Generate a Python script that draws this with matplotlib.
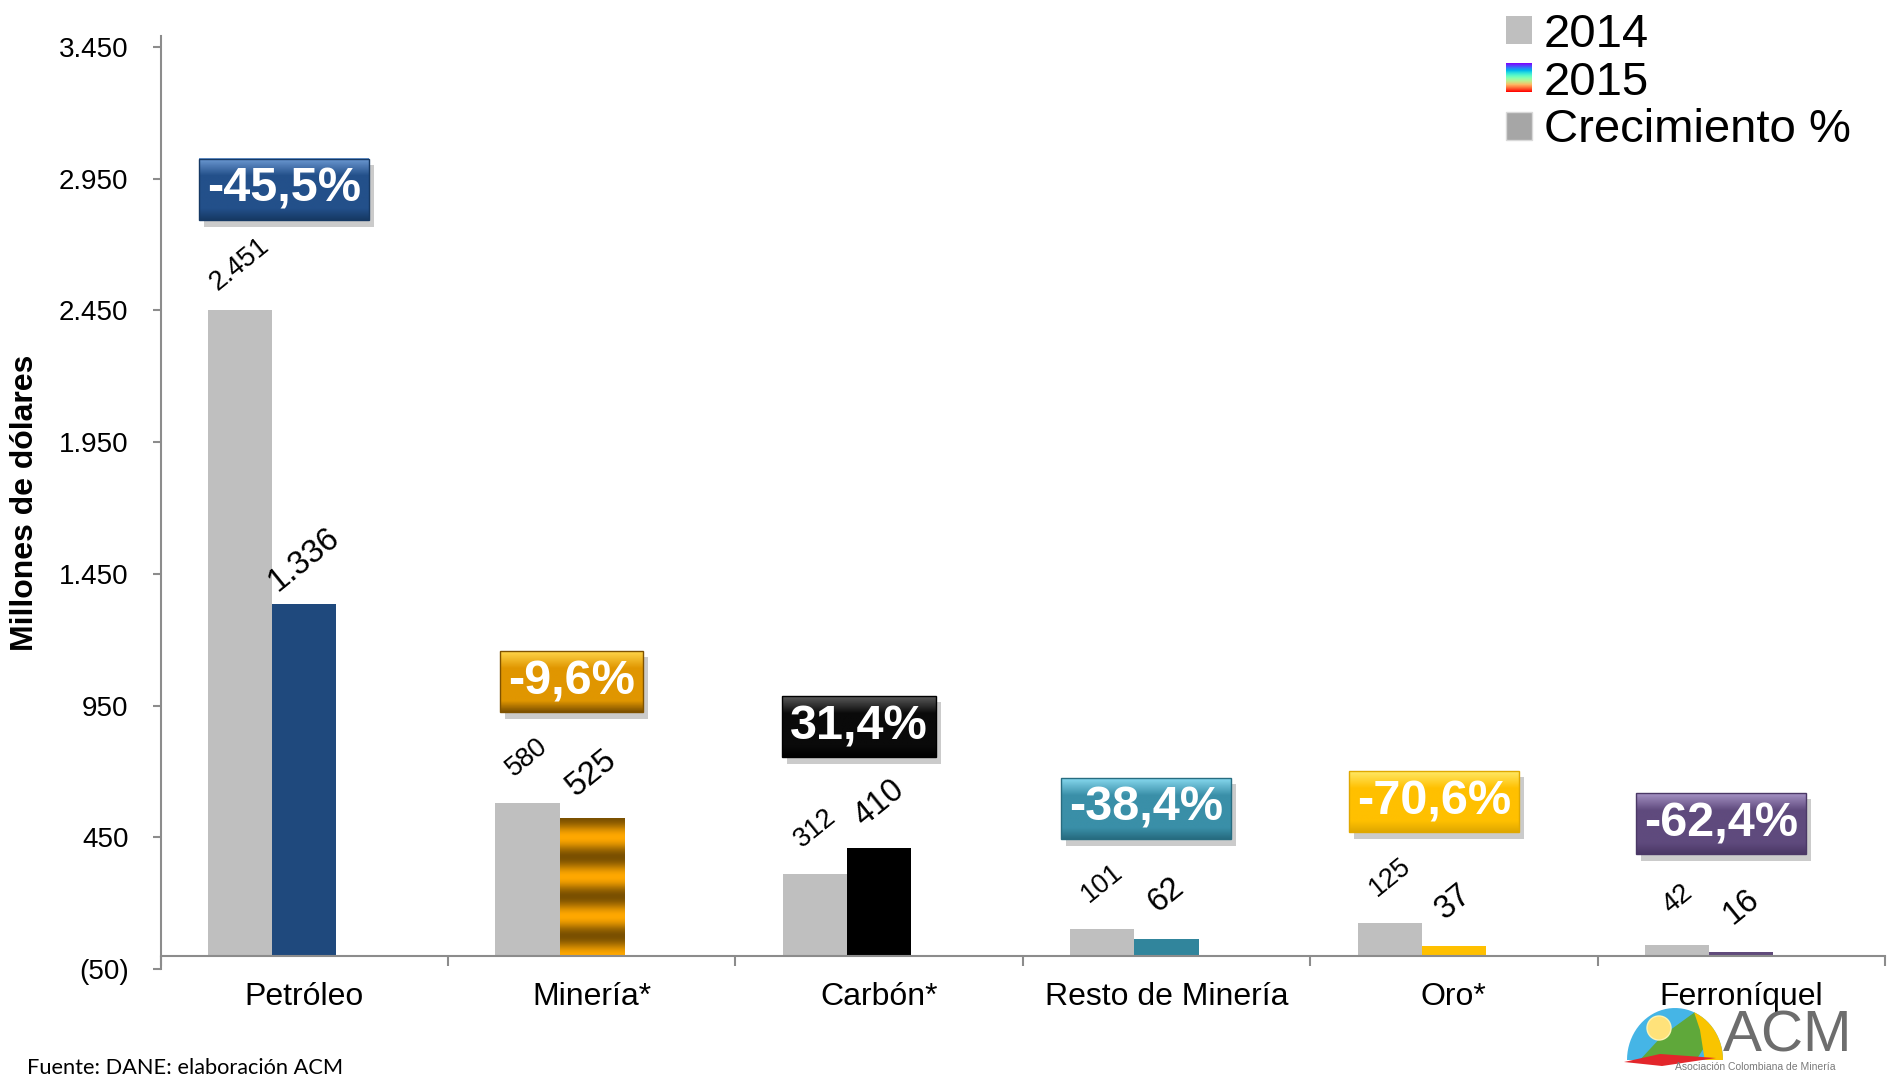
import numpy as np
import matplotlib
matplotlib.use('Agg')
from matplotlib import pyplot as plt
from matplotlib import patches
from matplotlib.colors import LinearSegmentedColormap
from matplotlib.legend_handler import HandlerBase
from matplotlib.image import BboxImage
from matplotlib.transforms import Bbox, TransformedBbox

# data
categories = ['Petróleo', 'Minería*', 'Carbón*', 'Resto de Minería', 'Oro*', 'Ferroníquel']
values_2014 = [2451, 580, 312, 101, 125, 42]
values_2015 = [1336, 525, 410, 62, 37, 16]
growth_pct = [-45.5, -9.6, 31.4, -38.4, -70.6, -62.4]
yticks = list(range(-50, 3451, 500))

# styles
bar_2015_colors = ['#1F497D', '#E69A00', '#000000', '#31859C', '#FFC000', '#604A7B']
box_colors = [
    ('#163964', '#23508A', '#6E9AD3'),
    ('#7F5200', '#E09600', '#FFD54A'),
    ('#000000', '#0A0A0A', '#5A5A5A'),
    ('#276C80', '#3A8FA8', '#86D8EE'),
    ('#E0A800', '#FFC000', '#FFE866'),
    ('#4B3866', '#5F4A7D', '#A592C4'),
]
GRAY_AX = '#8C8C8C'
W, H = 1892, 1074


def miles(v):
    s = f'{abs(v):,}'.replace(',', '.')
    return f'({s})' if v < 0 else s


def pct(v):
    return f'{v:.1f}%'.replace('.', ',')


def fpx(x, y):
    # image pixels -> figure fraction
    return (x / W, 1 - y / H)


class RainbowHandler(HandlerBase):
    def create_artists(self, legend, orig_handle, xdescent, ydescent,
                       width, height, fontsize, trans):
        box = TransformedBbox(Bbox.from_bounds(-xdescent, -ydescent, width, height), trans)
        img = BboxImage(box, cmap='rainbow_r', origin='lower', interpolation='bilinear')
        img.set_data(np.linspace(0, 1, 64).reshape(-1, 1))
        return [img]


plt.rcParams['font.family'] = ['Liberation Sans', 'DejaVu Sans']
fig = plt.figure(figsize=(W / 100, H / 100), dpi=100)
ax = fig.add_axes([160.5 / W, 1 - 969 / H, (1885 - 160.5) / W, (969 - 36) / H])

x = np.arange(len(categories))
w = 0.223
bars14 = ax.bar(x - w, values_2014, w, color='#BFBFBF', zorder=2)
bars15 = ax.bar(x, values_2015, w, color=bar_2015_colors, zorder=2)
ax.set_xlim(-0.5, len(categories) - 0.5)
ax.set_ylim(-50, 3492)

# gold stripes on the Minería 2015 bar
gold = LinearSegmentedColormap.from_list('gold', ['#FFA800', '#7A5000'])
r = bars15[1]
stripes = 0.5 + 0.5 * np.cos(np.linspace(0, 7 * np.pi, 200))
im = ax.imshow(stripes.reshape(-1, 1), cmap=gold, aspect='auto', interpolation='bilinear',
               extent=[r.get_x(), r.get_x() + r.get_width(), 0, r.get_height()], zorder=2.5)
im.set_clip_path(r)

# value labels
for bars, vals, size, off in ((bars14, values_2014, 19.5, 33), (bars15, values_2015, 23.5, 32)):
    for rect, v in zip(bars, vals):
        ax.annotate(miles(v), (rect.get_x() + rect.get_width() / 2, rect.get_height()),
                    xytext=(0, off), textcoords='offset points', ha='center', va='center',
                    rotation=39, fontsize=size, zorder=5)

# axes
for s in ('top', 'right'):
    ax.spines[s].set_visible(False)
ax.spines['bottom'].set_position(('data', 0))
for s in ('left', 'bottom'):
    ax.spines[s].set_color(GRAY_AX)
    ax.spines[s].set_linewidth(1.5)
ax.set_yticks(yticks)
ax.set_yticklabels([miles(v) for v in yticks])
ax.tick_params(axis='y', length=6, width=1.5, color=GRAY_AX, pad=17, labelsize=20)
ax.set_xticks(x)
ax.set_xticklabels(categories)
ax.tick_params(axis='x', which='major', length=0, pad=19, labelsize=23)
ax.set_xticks(np.arange(-0.5, len(categories)), minor=True)
ax.tick_params(axis='x', which='minor', length=7, width=1.5, color=GRAY_AX, direction='out')

ax.set_ylabel('Millones de dólares', fontsize=23, fontweight='bold', va='center')
ax.yaxis.set_label_coords(-0.0783, 0.5)

# growth boxes text
pct_texts = []
for i, g in enumerate(growth_pct):
    top = max(values_2014[i], values_2015[i])
    t = ax.text(x[i] - 0.07, top + 460, pct(g), ha='center', va='center', fontsize=35,
                fontweight='bold', color='white', zorder=6)
    pct_texts.append(t)

# legend
rainbow = patches.Patch()
handles = [patches.Patch(fc='#BFBFBF'), rainbow, patches.Patch(fc='#A6A6A6', ec='#D9D9D9')]
fig.legend(handles, ['2014', '2015', 'Crecimiento %'], loc='upper left',
           bbox_to_anchor=(0.796, 0.988), frameon=False, fontsize=34,
           handlelength=0.55, handleheight=0.55, handletextpad=0.25, labelspacing=0.08,
           borderpad=0, borderaxespad=0, handler_map={rainbow: RainbowHandler()})

# footer
fig.text(*fpx(27, 1057), 'Fuente: DANE; elaboración ACM', fontsize=15.7,
         family=['Lato', 'DejaVu Sans'], va='top')

# ACM logo (rough)
dome_pts = [(1675 + 48 * np.cos(a), 1060 - 52 * np.sin(a)) for a in np.linspace(np.pi, 0, 40)]
dome = patches.Polygon([fpx(*p) for p in dome_pts], closed=True, transform=fig.transFigure,
                       fc='#45B5E6', ec='none', zorder=1)
fig.patches.append(dome)
green = patches.Polygon([fpx(*p) for p in [(1638, 1062), (1662, 1036), (1695, 1012), (1712, 1035), (1695, 1062)]],
                        closed=True, transform=fig.transFigure, fc='#5FA83A', ec='none', zorder=1)
green.set_clip_path(dome)
fig.patches.append(green)
yellow = patches.Polygon([fpx(*p) for p in [(1690, 1000), (1730, 1000), (1730, 1062), (1705, 1062), (1700, 1030)]],
                         closed=True, transform=fig.transFigure, fc='#F9C400', ec='none', zorder=1)
yellow.set_clip_path(dome)
fig.patches.append(yellow)
sun = patches.Ellipse(fpx(1659, 1028), 24 / W, 24 / H, transform=fig.transFigure,
                      fc='#FFE27A', ec='#FFF3B0', lw=1, zorder=1)
fig.patches.append(sun)
swoosh = patches.Polygon([fpx(*p) for p in [(1624, 1062), (1660, 1054), (1716, 1058), (1662, 1066)]],
                         closed=True, transform=fig.transFigure, fc='#E3262B', ec='none', zorder=1)
fig.patches.append(swoosh)
fig.text(*fpx(1788, 1036), 'ACM', fontsize=42, color='#6D6D6D', ha='center', va='center')
fig.text(*fpx(1755, 1067), 'Asociación Colombiana de Minería', fontsize=7.5,
         color='#7A7A7A', ha='center', va='center')

# growth boxes (need text extents)
fig.canvas.draw()
to_data = ax.transData.inverted()
for t, (dark, base, light) in zip(pct_texts, box_colors):
    bb = t.get_window_extent()
    x0, y0 = to_data.transform((bb.x0 - 8, bb.y0 - 8))
    x1, y1 = to_data.transform((bb.x1 + 8, bb.y1 + 8))
    sx0, sy0 = to_data.transform((bb.x0 - 3, bb.y0 - 15))
    sx1, sy1 = to_data.transform((bb.x1 + 13, bb.y1 + 2))
    ax.add_patch(patches.Rectangle((sx0, sy0), sx1 - sx0, sy1 - sy0, fc='#7F7F7F',
                                   alpha=0.4, lw=0, zorder=3.8))
    cmap = LinearSegmentedColormap.from_list('box', [(0, dark), (0.18, base), (0.72, base), (1, light)])
    ax.imshow(np.linspace(1, 0, 100).reshape(-1, 1), cmap=cmap, aspect='auto', vmin=0, vmax=1,
              extent=[x0, x1, y0, y1], zorder=4, interpolation='bilinear')
    ax.add_patch(patches.Rectangle((x0, y0), x1 - x0, y1 - y0, fill=False, ec=dark,
                                   lw=1, zorder=4.5))

ax.set_xlim(-0.5, len(categories) - 0.5)
ax.set_ylim(-50, 3492)

fig.savefig('out.png', dpi=100)
